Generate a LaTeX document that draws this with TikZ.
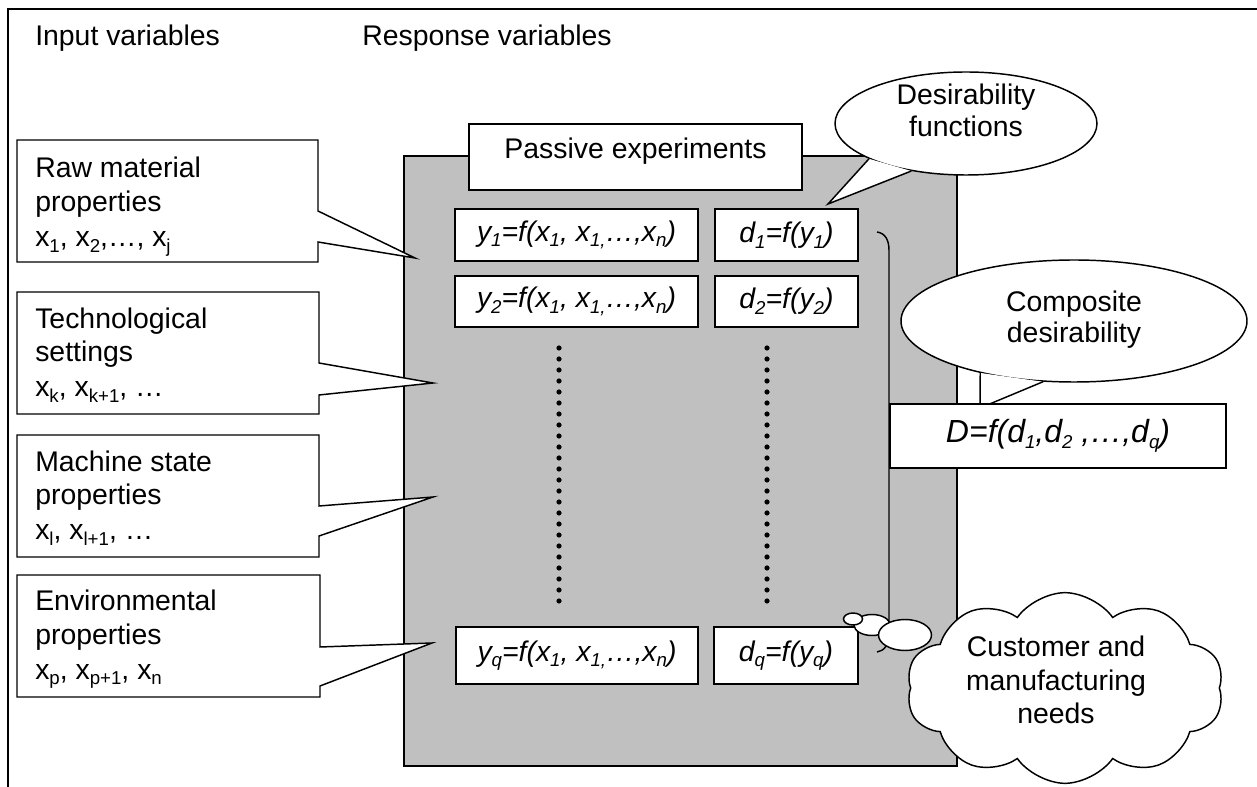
\documentclass[tikz,border=0pt]{standalone}
\usepackage{fontspec}
\setmainfont{Liberation Sans}
\usetikzlibrary{shapes.geometric,shapes.symbols}
\definecolor{panelgray}{HTML}{C0C0C0}
% lowered index in the running font
\newcommand\lowidx[1]{\raisebox{-0.2em}{\fontsize{14}{14}\selectfont #1}}

\begin{document}
\begin{tikzpicture}[x=0.75pt,y=-0.75pt,
  every node/.style={font=\fontsize{21.3}{26}\selectfont, inner sep=0pt},
  thin line/.style={line width=1.1pt},
  boxfill/.style={thin line, draw=black, fill=white},
  txt/.style={anchor=base west},
  ctxt/.style={anchor=base},
  fbox/.style={boxfill, rectangle, font=\fontsize{21.3}{26}\selectfont\itshape},
  bubble/.style={boxfill, ellipse, inner sep=0pt},
  dotmark/.style={fill=black}
]
\useasboundingbox (0,0) rectangle (1257,787);

% outer frame (top and left sides only)
\draw[line width=2.2pt] (8,787) -- (8,9) -- (1257,9);

% column headings
\node[txt] (inhead) at (35,46) {Input variables};
\node[txt] (resphead) at (362,46) {Response variables};

% grey panel of the process
\draw[thin line, fill=panelgray] (404,156) rectangle (957,766);

% input callouts pointing into the panel
\draw[boxfill] (17,140) -- (318,140) -- (318,211) -- (415,258) -- (318,242) -- (318,262) -- (17,262) -- cycle;
\draw[boxfill] (17,292) -- (319,292) -- (319,363) -- (433,383) -- (319,395) -- (319,414) -- (17,414) -- cycle;
\draw[boxfill] (17,435) -- (319,435) -- (319,506) -- (433,497) -- (319,536) -- (319,557) -- (17,557) -- cycle;
\draw[boxfill] (17,575) -- (320,575) -- (320,647) -- (432,643) -- (320,686) -- (320,697) -- (17,697) -- cycle;

\node[txt] (raw1) at (35,178) {Raw material};
\node[txt] (raw2) at (35,212) {properties};
\node[txt] (raw3) at (35,247) {x\lowidx{1}, x\lowidx{2},…, x\lowidx{j}};

\node[txt] (tech1) at (35,329) {Technological};
\node[txt] (tech2) at (35,362) {settings};
\node[txt] (tech3) at (35,397) {x\lowidx{k}, x\lowidx{k+1}, …};

\node[txt] (mach1) at (35,472) {Machine state};
\node[txt] (mach2) at (35,505) {properties};
\node[txt] (mach3) at (35,540) {x\lowidx{l}, x\lowidx{l+1}, …};

\node[txt] (env1) at (35,611) {Environmental};
\node[txt] (env2) at (35,644) {properties};
\node[txt] (env3) at (35,679) {x\lowidx{p}, x\lowidx{p+1}, x\lowidx{n}};

% passive experiments label box
\node[boxfill, rectangle, minimum width=249.75pt, minimum height=49.5pt] (passive) at (635.5,157) {};
\node[ctxt] (passivetxt) at (635.5,159) {Passive experiments};

% response and desirability boxes
\node[fbox, minimum width=182.25pt, minimum height=39pt] (y1) at (576.5,235) {y\lowidx{1}=f(x\lowidx{1}, x\lowidx{1,}…,x\lowidx{n})};
\node[fbox, minimum width=107.25pt, minimum height=39pt] (d1) at (786.5,235) {d\lowidx{1}=f(y\lowidx{1})};
\node[fbox, minimum width=182.25pt, minimum height=38.25pt] (y2) at (576.5,301.5) {y\lowidx{2}=f(x\lowidx{1}, x\lowidx{1,}…,x\lowidx{n})};
\node[fbox, minimum width=107.25pt, minimum height=38.25pt] (d2) at (786.5,301.5) {d\lowidx{2}=f(y\lowidx{2})};
\node[fbox, minimum width=181.5pt, minimum height=42.75pt] (yq) at (577,655.5) {y\lowidx{q}=f(x\lowidx{1}, x\lowidx{1,}…,x\lowidx{n})};
\node[fbox, minimum width=108pt, minimum height=42.75pt] (dq) at (786,655.5) {d\lowidx{q}=f(y\lowidx{q})};

% dotted columns between the rows
\foreach \i in {0,...,23} {
  \fill[dotmark] (559,348+11*\i) circle (1.95pt);
  \fill[dotmark] (767,348+11*\i) circle (1.95pt);
}

% desirability functions speech bubble
\node[bubble, minimum width=196.5pt, minimum height=77.25pt] (desb) at (966,123.5) {};
\coordinate (destip) at (828,204);
\fill[white] (desb.200) -- (destip) -- (desb.221) -- cycle;
\draw[thin line] (desb.200) -- (destip) -- (desb.221);
\node[ctxt] (desb1) at (966,105) {Desirability};
\node[ctxt] (desb2) at (966,137) {functions};

% brace gathering the desirability values
\draw[thin line] (877,232) .. controls (885,233) and (889,240) .. (889,250)
  -- (889,634) .. controls (889,645) and (884,651) .. (877,652);

% composite desirability speech bubble
\node[bubble, minimum width=259.5pt, minimum height=91.5pt] (compb) at (1074,321) {};
\coordinate (comptip) at (980,408);
\fill[white] (compb.209) -- (comptip) -- (compb.243) -- cycle;
\draw[thin line] (compb.209) -- (comptip) -- (compb.243);
\node[ctxt] (compb1) at (1074,312) {Composite};
\node[ctxt] (compb2) at (1074,343) {desirability};

% overall desirability box
\node[boxfill, rectangle, minimum width=252pt, minimum height=48pt, font=\fontsize{24}{28}\selectfont\itshape] (D) at (1058,436)
  {D=f(d\lowidx{1},d\lowidx{2} ,…,d\lowidx{q})};

% thought bubbles leading to the needs cloud
\node[bubble, minimum width=27pt, minimum height=15.75pt] (tb2) at (872,625) {};
\node[bubble, minimum width=14.25pt, minimum height=9pt] (tb1) at (853,619) {};
\node[bubble, minimum width=39.75pt, minimum height=23.25pt] (tb3) at (905,635) {};

% customer and manufacturing needs cloud
\node[cloud, boxfill, cloud puffs=10, cloud puff arc=110, aspect=1.68,
      minimum width=238pt, minimum height=143pt, inner sep=0pt] (needs) at (1065,688) {};
\node[align=center, font=\fontsize{21.3}{25}\selectfont] (needstxt) at (1056,680)
  {Customer and\\manufacturing\\needs};
\end{tikzpicture}
\end{document}
